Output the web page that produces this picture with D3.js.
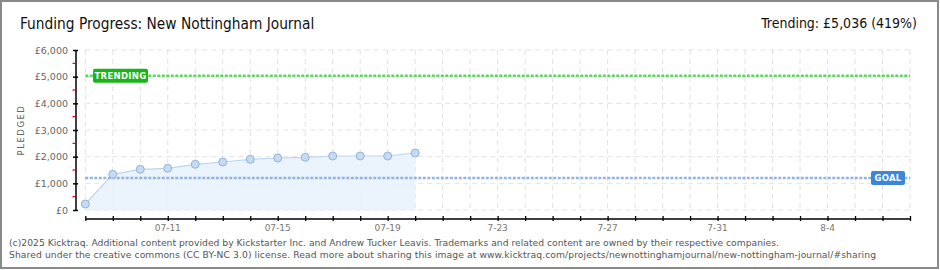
<!DOCTYPE html>
<html>
<head>
<meta charset="utf-8">
<script src="https://cdn.jsdelivr.net/npm/d3@7"></script>
<style>
  body { margin: 0; background: #fff; }
  svg { display: block; }
</style>
</head>
<body>
<div id="chart"></div>
<script>
const dates = ['2025-07-08', '2025-07-09', '2025-07-10', '2025-07-11', '2025-07-12', '2025-07-13', '2025-07-14',
  '2025-07-15', '2025-07-16', '2025-07-17', '2025-07-18', '2025-07-19', '2025-07-20'];
const pledged = [225, 1339, 1526, 1564, 1714, 1800, 1901, 1950, 1976, 2025, 2025, 2025, 2138];
const goal = 1200;
const trending = 5036;
const yTicks = [0, 1000, 2000, 3000, 4000, 5000, 6000];
const xTickDates = ['2025-07-11', '2025-07-15', '2025-07-19', '2025-07-23', '2025-07-27', '2025-07-31', '2025-08-04'];
const xTickLabels = ['07-11', '07-15', '07-19', '7-23', '7-27', '7-31', '8-4'];
const domainDates = ['2025-07-08', '2025-08-07'];

const parse = d3.utcParse('%Y-%m-%d');
const data = dates.map((d, i) => ({date: parse(d), value: pledged[i]}));

const width = 940, height = 270;
const plotLeft = 85.3, plotRight = 910, plotTop = 50, plotBottom = 210, axisY = 218.5;

const svg = d3.select('#chart').append('svg')
  .attr('width', width)
  .attr('height', height);

svg.append('rect')
  .attr('x', 1).attr('y', 1)
  .attr('width', 937).attr('height', 267)
  .attr('fill', '#fff')
  .attr('stroke', '#8a8a8a')
  .attr('stroke-width', 2);

const x = d3.scaleUtc()
  .domain(domainDates.map(parse))
  .range([plotLeft, plotRight]);

const y = d3.scaleLinear()
  .domain([0, 6000])
  .range([plotBottom, plotTop]);

const days = d3.utcDay.range(parse(domainDates[0]), d3.utcDay.offset(parse(domainDates[1]), 1));

// grid
svg.append('g')
  .selectAll('line')
  .data(days)
  .enter().append('line')
  .attr('x1', d => x(d)).attr('x2', d => x(d))
  .attr('y1', plotTop).attr('y2', plotBottom)
  .attr('stroke', '#e2e2e2')
  .attr('stroke-dasharray', '5,4');

svg.append('g')
  .selectAll('line')
  .data(yTicks)
  .enter().append('line')
  .attr('x1', plotLeft).attr('x2', plotRight)
  .attr('y1', d => y(d)).attr('y2', d => y(d))
  .attr('stroke', '#e2e2e2')
  .attr('stroke-dasharray', '5,4');

// area + line
const area = d3.area()
  .x(d => x(d.date))
  .y0(y(0))
  .y1(d => y(d.value));

svg.append('path')
  .datum(data)
  .attr('d', area)
  .attr('fill', '#e9f2fc')
  .attr('opacity', 0.9);

svg.append('path')
  .datum(data)
  .attr('d', d3.line().x(d => x(d.date)).y(d => y(d.value)))
  .attr('fill', 'none')
  .attr('stroke', '#bcd6f2')
  .attr('stroke-width', 1.2);

// goal + trending lines
svg.append('line')
  .attr('x1', plotLeft).attr('x2', plotRight)
  .attr('y1', y(goal)).attr('y2', y(goal))
  .attr('stroke', '#93b4dc')
  .attr('stroke-width', 2.5)
  .attr('stroke-dasharray', '3,1.5');

svg.append('line')
  .attr('x1', plotLeft).attr('x2', plotRight)
  .attr('y1', y(trending)).attr('y2', y(trending))
  .attr('stroke', '#5fd45f')
  .attr('stroke-width', 2.5)
  .attr('stroke-dasharray', '3,1.5');

// points
svg.append('g')
  .selectAll('circle')
  .data(data)
  .enter().append('circle')
  .attr('cx', d => x(d.date))
  .attr('cy', d => y(d.value))
  .attr('r', 4)
  .attr('fill', '#c3dbf6')
  .attr('stroke', '#97b3d3')
  .attr('stroke-width', 1);

// y axis
const yAxis = svg.append('g')
  .attr('transform', 'translate(76,0)')
  .call(d3.axisLeft(y).tickValues(yTicks).tickSize(3).tickFormat(d => '£' + d3.format(',')(d)));
yAxis.select('.domain').attr('stroke', '#000').attr('stroke-width', 1.5).attr('d', `M0,${plotTop}V${plotBottom}`);
yAxis.selectAll('.tick line').attr('x1', -3).attr('x2', 2).attr('stroke', '#000').attr('stroke-width', 1.5);
yAxis.selectAll('.tick text')
  .attr('x', -8)
  .attr('fill', '#666')
  .attr('font-family', 'DejaVu Sans')
  .attr('font-size', 9.5);

svg.append('g')
  .selectAll('line')
  .data(d3.range(500, 6000, 1000))
  .enter().append('line')
  .attr('x1', 72.5).attr('x2', 75.5)
  .attr('y1', d => y(d)).attr('y2', d => y(d))
  .attr('stroke', '#e00')
  .attr('stroke-width', 1.2);

svg.append('text')
  .attr('transform', `translate(24,${(plotTop + plotBottom) / 2}) rotate(-90)`)
  .attr('text-anchor', 'middle')
  .attr('fill', '#666')
  .attr('font-family', 'DejaVu Sans')
  .attr('font-size', 8.5)
  .attr('letter-spacing', 1.5)
  .text('PLEDGED');

// x axis
const xAxis = svg.append('g')
  .attr('transform', `translate(0,${axisY})`)
  .call(d3.axisBottom(x).tickValues(days).tickSize(0).tickFormat(''));
xAxis.select('.domain').attr('stroke', '#000').attr('stroke-width', 1.5);
xAxis.selectAll('.tick line').attr('y1', -2.5).attr('y2', 2.5).attr('stroke', '#000').attr('stroke-width', 1.3);

svg.append('g')
  .selectAll('text')
  .data(xTickDates)
  .enter().append('text')
  .attr('x', d => x(parse(d)))
  .attr('y', 231)
  .attr('text-anchor', 'middle')
  .attr('fill', '#777')
  .attr('font-family', 'DejaVu Sans')
  .attr('font-size', 9)
  .text((d, i) => xTickLabels[i]);

// labels
function tag(xPos, yVal, w, label, fill) {
  const g = svg.append('g');
  g.append('rect')
    .attr('x', xPos).attr('y', y(yVal) - 7)
    .attr('width', w).attr('height', 14)
    .attr('rx', 2)
    .attr('fill', fill);
  g.append('text')
    .attr('x', xPos + w / 2).attr('y', y(yVal) + 3.2)
    .attr('text-anchor', 'middle')
    .attr('fill', '#fff')
    .attr('font-family', 'DejaVu Sans')
    .attr('font-weight', 'bold')
    .attr('font-size', 8.5)
    .attr('letter-spacing', 0.3)
    .text(label);
}
tag(93, trending, 55, 'TRENDING', '#18b418');
tag(871, goal, 34, 'GOAL', '#3b86d8');

// titles
svg.append('text')
  .attr('x', 20).attr('y', 29)
  .attr('font-family', 'DejaVu Sans Condensed, DejaVu Sans')
  .attr('font-stretch', 'condensed')
  .attr('font-size', 15.3)
  .attr('fill', '#111')
  .text('Funding Progress: New Nottingham Journal');

svg.append('text')
  .attr('x', 917).attr('y', 28)
  .attr('text-anchor', 'end')
  .attr('font-family', 'DejaVu Sans Condensed, DejaVu Sans')
  .attr('font-stretch', 'condensed')
  .attr('font-size', 14)
  .attr('fill', '#111')
  .text('Trending: £5,036 (419%)');

// footer
const footer = [
  '(c)2025 Kicktraq. Additional content provided by Kickstarter Inc. and Andrew Tucker Leavis. Trademarks and related content are owned by their respective companies.',
  'Shared under the creative commons (CC BY-NC 3.0) license. Read more about sharing this image at www.kicktraq.com/projects/newnottinghamjournal/new-nottingham-journal/#sharing'
];
const footerWidths = [770, 867];
svg.append('g')
  .selectAll('text')
  .data(footer)
  .enter().append('text')
  .attr('x', 9)
  .attr('y', (d, i) => 246 + i * 12)
  .attr('font-family', 'DejaVu Sans')
  .attr('font-size', 9.2)
  .attr('fill', '#555')
  .attr('textLength', (d, i) => footerWidths[i])
  .attr('lengthAdjust', 'spacing')
  .text(d => d);
</script>
</body>
</html>
